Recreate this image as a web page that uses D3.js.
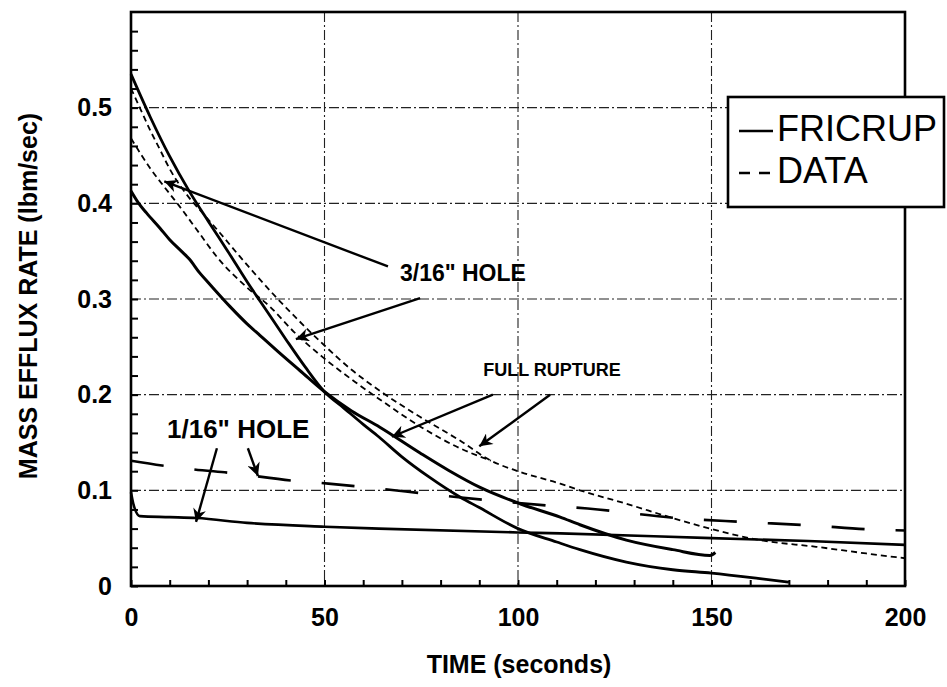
<!DOCTYPE html>
<html lang="en">
<head>
  <meta charset="UTF-8">
  <title>Mass Efflux Rate vs Time</title>
  <script src="https://d3js.org/d3.v7.min.js"></script>
  <style>
    body { margin: 0; background: #fff; }
    svg { font-family: "Liberation Sans", Arial, Helvetica, sans-serif; }
    .grid line { stroke: #222; stroke-width: 1.1; stroke-dasharray: 10,3,2,3; }
    .axis text { font-size: 25px; font-weight: bold; fill: #000; }
    .axis line { stroke: #000; stroke-width: 2; }
    .axis path { display: none; }
    .curve { fill: none; stroke: #000; }
  </style>
</head>
<body>
  <svg width="947" height="687"></svg>
  <script>
    // FRICRUP, 3/16" hole
    const solidHoleT = [0, 5, 10, 15, 20, 25, 30, 35, 40, 45, 50, 55, 60, 64, 70, 77, 85, 90, 100, 110, 116, 128, 140, 150, 162, 170];
    const solidHoleV = [0.535, 0.49, 0.449, 0.413, 0.381, 0.35, 0.318, 0.288, 0.258, 0.229, 0.203, 0.186, 0.169, 0.156, 0.135, 0.114, 0.093, 0.082, 0.06, 0.046, 0.038, 0.025, 0.017, 0.0135, 0.008, 0.004];
    // FRICRUP, full rupture
    const solidFullT = [0, 2, 4, 7.5, 10, 13, 15, 17.8, 20, 25.6, 30, 33.3, 38, 43.7, 50, 57, 64.3, 74.7, 82, 90.2, 100.5, 110.9, 116, 128, 140, 149.6, 151];
    const solidFullV = [0.413, 0.4, 0.39, 0.374, 0.362, 0.35, 0.342, 0.327, 0.317, 0.292, 0.274, 0.262, 0.245, 0.225, 0.203, 0.183, 0.166, 0.139, 0.121, 0.103, 0.086, 0.072, 0.064, 0.048, 0.038, 0.032, 0.035];
    // DATA, upper dashed
    const dataUpperT = [0, 2.5, 5, 7.5, 10, 15, 17.8, 23, 28, 37.7, 48.8, 57, 64.3, 75, 85, 93, 100, 110.9, 116, 128, 140, 149.6, 162.5, 177, 190, 200];
    const dataUpperV = [0.52, 0.498, 0.476, 0.456, 0.436, 0.406, 0.393, 0.369, 0.345, 0.301, 0.256, 0.226, 0.204, 0.176, 0.152, 0.131, 0.12, 0.107, 0.1, 0.086, 0.071, 0.06, 0.048, 0.041, 0.034, 0.029];
    // DATA, lower dashed
    const dataLowerT = [0, 4.9, 10, 12.7, 17.8, 22.2, 30, 35.9, 42, 49.6, 58, 64.3, 75, 85, 93];
    const dataLowerV = [0.468, 0.437, 0.41, 0.396, 0.368, 0.344, 0.312, 0.292, 0.266, 0.239, 0.213, 0.195, 0.166, 0.144, 0.131];
    // 1/16" hole, FRICRUP
    const smallSolidT = [0, 0.6, 2.3, 10, 17, 30, 50, 64, 100, 111, 150, 175, 200];
    const smallSolidV = [0.098, 0.086, 0.073, 0.072, 0.071, 0.066, 0.062, 0.06, 0.056, 0.055, 0.05, 0.047, 0.043];
    // 1/16" hole, DATA
    const smallDataT = [0, 8, 16, 26, 42, 51, 75, 84, 108, 118, 141, 158, 175, 192, 200];
    const smallDataV = [0.131, 0.126, 0.122, 0.118, 0.11, 0.107, 0.097, 0.093, 0.084, 0.081, 0.071, 0.067, 0.0635, 0.059, 0.058];

    const xTicks = [0, 50, 100, 150, 200];
    const yTicks = [0, 0.1, 0.2, 0.3, 0.4, 0.5];

    const svg = d3.select("svg");
    const margin = {top: 12, right: 42, bottom: 101, left: 131};
    const width = 947 - margin.left - margin.right;
    const height = 687 - margin.top - margin.bottom;

    const x = d3.scaleLinear().domain([0, 200]).range([0, width]);
    const y = d3.scaleLinear().domain([0, 0.6]).range([height, 0]);

    const g = svg.append("g").attr("transform", `translate(${margin.left},${margin.top})`);

    // grid
    const grid = g.append("g").attr("class", "grid");
    grid.selectAll(".gy").data(yTicks.slice(1)).join("line")
      .attr("x1", 0).attr("x2", width)
      .attr("y1", d => y(d)).attr("y2", d => y(d));
    grid.selectAll(".gx").data(xTicks.slice(1, -1)).join("line")
      .attr("y1", 0).attr("y2", height)
      .attr("x1", d => x(d)).attr("x2", d => x(d));

    // axes, ticks inside
    const fmtY = d => (Math.abs(d * 10 - Math.round(d * 10)) < 1e-6 && d < 0.55) ? (d === 0 ? "0" : d3.format(".1f")(d)) : "";
    g.append("g").attr("class", "axis")
      .call(d3.axisLeft(y).tickValues(d3.range(0, 0.59, 0.02)).tickSize(-7).tickPadding(19).tickFormat(fmtY));
    g.append("g").attr("class", "axis")
      .attr("transform", `translate(0,${height})`)
      .call(d3.axisBottom(x).tickValues(d3.range(0, 201, 10)).tickSize(-6).tickPadding(22)
        .tickFormat(d => d % 50 === 0 ? d : ""));

    // frame
    g.append("rect").attr("width", width).attr("height", height)
      .attr("fill", "none").attr("stroke", "#000").attr("stroke-width", 2.6);

    const line = d3.line().x(d => x(d[0])).y(d => y(d[1])).curve(d3.curveMonotoneX);
    const zip = (a, b) => a.map((t, i) => [t, b[i]]);

    const series = [
      {t: dataUpperT, v: dataUpperV, w: 1.8, dash: "6,4"},
      {t: dataLowerT, v: dataLowerV, w: 1.8, dash: "6,4"},
      {t: smallDataT, v: smallDataV, w: 2.6, dash: "33,31"},
      {t: solidHoleT, v: solidHoleV, w: 2.8, dash: null},
      {t: solidFullT, v: solidFullV, w: 3, dash: null},
      {t: smallSolidT, v: smallSolidV, w: 2.6, dash: null}
    ];
    g.selectAll(".curve").data(series).join("path")
      .attr("class", "curve")
      .attr("d", d => line(zip(d.t, d.v)))
      .attr("stroke-width", d => d.w)
      .attr("stroke-dasharray", d => d.dash);

    // annotations
    svg.append("defs").append("marker")
      .attr("id", "arr").attr("viewBox", "0 0 10 10").attr("refX", 10).attr("refY", 5)
      .attr("markerUnits", "userSpaceOnUse").attr("markerWidth", 15).attr("markerHeight", 13)
      .attr("orient", "auto")
      .append("path").attr("d", "M0,0 L10,5 L0,10 L3,5 Z").attr("fill", "#000");

    const labels = [
      {text: "3/16\" HOLE", t: 69.5, v: 0.319, size: 23},
      {text: "FULL RUPTURE", t: 91, v: 0.22, size: 18},
      {text: "1/16\" HOLE", t: 9.3, v: 0.155, size: 26}
    ];
    const arrows = [
      [66.4, 0.334, 8.6, 0.423],
      [74.7, 0.301, 42.6, 0.258],
      [93.5, 0.2, 67.4, 0.156],
      [108.3, 0.2, 90, 0.146],
      [22.2, 0.144, 16.8, 0.067],
      [30.2, 0.144, 32.8, 0.115]
    ];
    g.selectAll(".lbl").data(labels).join("text")
      .attr("x", d => x(d.t)).attr("y", d => y(d.v))
      .attr("font-size", d => d.size).attr("font-weight", "bold")
      .text(d => d.text);
    g.selectAll(".arw").data(arrows).join("line")
      .attr("x1", d => x(d[0])).attr("y1", d => y(d[1]))
      .attr("x2", d => x(d[2])).attr("y2", d => y(d[3]))
      .attr("stroke", "#000").attr("stroke-width", 2.4)
      .attr("marker-end", "url(#arr)");

    // axis titles
    svg.append("text").attr("x", 519).attr("y", 673)
      .attr("text-anchor", "middle").attr("font-size", 25).attr("font-weight", "bold")
      .text("TIME (seconds)");
    svg.append("text").attr("transform", "translate(37,296) rotate(-90)")
      .attr("text-anchor", "middle").attr("font-size", 25).attr("font-weight", "bold")
      .text("MASS EFFLUX RATE (lbm/sec)");

    // legend
    const lg = svg.append("g").attr("transform", "translate(728,97)");
    lg.append("rect").attr("width", 216).attr("height", 110)
      .attr("fill", "#fff").attr("stroke", "#000").attr("stroke-width", 2.6);
    lg.append("line").attr("x1", 11).attr("x2", 45).attr("y1", 34).attr("y2", 34)
      .attr("stroke", "#000").attr("stroke-width", 2.5);
    lg.append("line").attr("x1", 11).attr("x2", 45).attr("y1", 76).attr("y2", 76)
      .attr("stroke", "#000").attr("stroke-width", 2.5).attr("stroke-dasharray", "11,9");
    lg.append("text").attr("x", 49).attr("y", 44).attr("font-size", 36).text("FRICRUP");
    lg.append("text").attr("x", 49).attr("y", 86).attr("font-size", 36).text("DATA");
  </script>
</body>
</html>
